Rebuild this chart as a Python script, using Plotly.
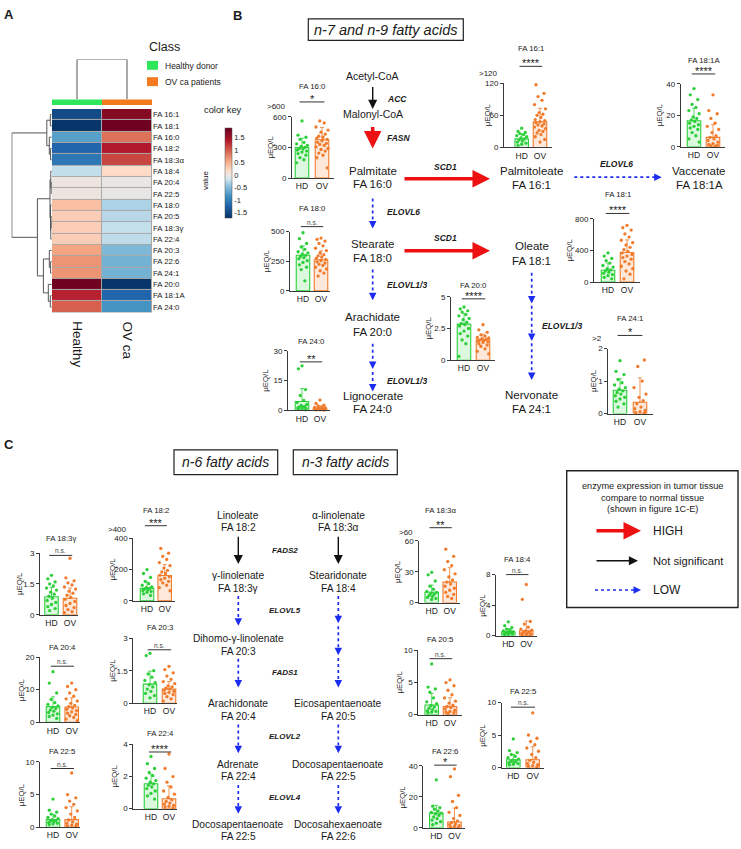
import plotly.graph_objects as go

W, H = 741, 849
FONT = "Liberation Sans, Arial, Helvetica, sans-serif"
TXT = "#1a1a1a"
AXC = "#3a3a3a"
HD_C = "#2ccf3a"
HD_FILL = "rgba(60,215,70,0.18)"
OV_C = "#f07b2c"
OV_FILL = "rgba(245,130,50,0.18)"
RED = "#ee1111"
BLUE = "#1c2cf0"
BLACK = "#111111"


def px(x):
    return x / W


def py(y):
    return 1 - y / H


# ---------------- data: heatmap (panel A) ----------------
heat_rows = ["FA 16:1", "FA 18:1", "FA 16:0", "FA 18:2", "FA 18:3α", "FA 18:4", "FA 20:4",
             "FA 22:5", "FA 18:0", "FA 20:5", "FA 18:3γ", "FA 22:4", "FA 20:3", "FA 22:6",
             "FA 24:1", "FA 20:0", "FA 18:1A", "FA 24:0"]
heat_cols = ["Healthy", "OV ca"]
heat_healthy = [-1.45, -1.65, -0.7, -1.2, -1.05, -0.2, 0.03, 0.03, 0.4, 0.3, 0.3, 0.3,
                0.6, 0.7, 0.7, 1.85, 1.35, 1.0]
heat_ovca = [1.7, 1.85, 0.9, 1.4, 1.15, 0.2, -0.02, -0.02, -0.3, -0.25, -0.2, -0.22,
             -0.5, -0.55, -0.55, -1.65, -1.2, -0.8]
# row dendrogram merges: (node a, node b, height); new nodes numbered from 18
row_linkage = [(0, 1, 1.5), (3, 4, 1.2), (2, 19, 2.5), (18, 20, 5.0),
               (6, 7, 0.5), (22, 5, 1.0), (9, 10, 0.6), (24, 11, 1.0), (8, 25, 1.3),
               (23, 26, 1.8), (13, 14, 1.2), (12, 28, 2.5), (16, 17, 1.5), (15, 30, 3.5),
               (29, 31, 8.4), (27, 32, 14.4), (21, 33, 40.0)]
col_link_height = 1.0
class_names = ["Healthy donor", "OV ca patients"]
cbar_ticks = [-1.5, -1, -0.5, 0, 0.5, 1, 1.5]

# ---------------- data: dot/bar charts ----------------
fa160_hd = [560, 420, 400, 380, 350, 335, 320, 310, 300, 290, 285, 275, 265, 255, 240, 225, 200, 180, 150]
fa160_ov = [700, 690, 680, 560, 540, 500, 470, 450, 430, 410, 400, 390, 380, 365, 350, 340, 330, 320,
            305, 290, 280, 265, 245, 225, 200, 100]
fa160_mean = [300, 375]
fa160_sd = [90, 120]

fa180_hd = [490, 440, 400, 370, 350, 330, 320, 310, 300, 290, 280, 270, 255, 240, 220, 200, 180, 85]
fa180_ov = [445, 435, 420, 400, 380, 360, 340, 320, 305, 295, 285, 275, 265, 255, 245, 235, 225, 215,
            200, 185, 170, 150, 125]
fa180_mean = [300, 262]
fa180_sd = [80, 75]

fa240_hd = [22.5, 21, 10.5, 7.5, 5, 4, 3, 2.5, 2, 1.8, 1.5, 1.2, 1, 0.8, 0.5, 0.3]
fa240_ov = [5.2, 3.5, 2.6, 2.2, 1.8, 1.5, 1.2, 1.0, 0.8, 0.7, 0.6, 0.5, 0.4, 0.3, 0.2, 0.1]
fa240_mean = [4.5, 1.0]
fa240_sd = [6.5, 1.2]

fa200_hd = [4.2, 4.05, 3.9, 3.8, 3.6, 3.5, 3.3, 3.2, 3.0, 2.9, 2.8, 2.7, 2.5, 2.3, 2.1, 1.9, 1.6, 1.3, 0.3]
fa200_ov = [2.8, 2.4, 2.2, 2.0, 1.9, 1.8, 1.75, 1.7, 1.65, 1.6, 1.55, 1.5, 1.45, 1.4, 1.3, 1.2, 1.1, 0.9,
            0.7, 0.5]
fa200_mean = [2.85, 1.6]
fa200_sd = [0.85, 0.45]

fa161_hd = [36, 30, 28, 26, 24, 22, 20, 18, 16, 14, 12, 10, 8, 6, 4]
fa161_ov = [140, 117, 101, 95, 88, 80, 72, 65, 62, 60, 56, 52, 50, 48, 46, 44, 42, 40, 38, 35, 32, 30,
            27, 24, 20, 15, 10]
fa161_mean = [16, 48]
fa161_sd = [9, 25]

fa181a_hd = [37, 33, 30, 27, 25, 23, 21, 19, 18, 17, 16, 15, 14, 13, 12, 11, 9, 7, 5, 3]
fa181a_ov = [33, 23, 21, 18, 15, 13, 11, 9, 7, 6, 5, 4, 3, 2, 1.5, 1, 0.5, 0.3]
fa181a_mean = [16.5, 6]
fa181a_sd = [8, 8]

fa181_hd = [370, 330, 300, 270, 240, 210, 190, 170, 155, 140, 125, 110, 95, 80, 60, 40]
fa181_ov = [720, 690, 660, 610, 570, 530, 500, 470, 440, 410, 390, 370, 350, 330, 310, 290, 260, 230,
            200, 170, 140, 100, 40]
fa181_mean = [150, 375]
fa181_sd = [90, 160]

fa241_hd = [1.63, 1.3, 1.2, 1.05, 0.95, 0.88, 0.8, 0.75, 0.7, 0.65, 0.6, 0.55, 0.5, 0.45, 0.38, 0.3, 0.2]
fa241_ov = [2.25, 2.25, 1.65, 1.45, 1.0, 0.8, 0.6, 0.5, 0.4, 0.3, 0.2, 0.15, 0.1, 0.06, 0.04, 0.02]
fa241_mean = [0.72, 0.35]
fa241_sd = [0.35, 0.75]

fa183g_hd = [1.92, 1.75, 1.6, 1.5, 1.4, 1.3, 1.2, 1.1, 1.0, 0.9, 0.8, 0.7, 0.6, 0.5, 0.4, 0.3, 0.2]
fa183g_ov = [2.75, 1.8, 1.65, 1.55, 1.45, 1.35, 1.25, 1.15, 1.05, 0.95, 0.85, 0.75, 0.65, 0.55, 0.45,
             0.35, 0.25, 0.15, 0.1]
fa183g_mean = [0.88, 0.8]
fa183g_sd = [0.45, 0.5]

fa182_hd = [200, 175, 150, 125, 110, 100, 90, 85, 80, 75, 70, 65, 60, 55, 45, 35]
fa182_ov = [455, 335, 305, 285, 265, 245, 225, 210, 195, 185, 175, 165, 155, 145, 135, 125, 115, 100, 85, 65]
fa182_mean = [80, 162]
fa182_sd = [40, 70]

fa203_hd = [2.3, 2.2, 1.5, 1.35, 1.2, 1.05, 0.95, 0.85, 0.75, 0.65, 0.55, 0.45, 0.35, 0.25]
fa203_ov = [1.7, 1.55, 1.4, 1.25, 1.1, 1.0, 0.9, 0.8, 0.75, 0.7, 0.65, 0.6, 0.55, 0.5, 0.45, 0.4, 0.3,
            0.2, 0.1]
fa203_mean = [0.88, 0.65]
fa203_sd = [0.6, 0.35]

fa224_hd = [3.25, 2.8, 2.5, 2.25, 2.05, 1.9, 1.75, 1.65, 1.55, 1.45, 1.35, 1.25, 1.1, 0.95, 0.8, 0.6]
fa224_ov = [3.4, 2.5, 2.0, 1.65, 1.35, 1.1, 0.9, 0.7, 0.55, 0.45, 0.35, 0.28, 0.2, 0.15, 0.1, 0.05]
fa224_mean = [1.55, 0.62]
fa224_sd = [0.6, 0.8]

fa204_hd = [15.5, 12, 9, 7, 6, 5.5, 5, 4.6, 4.2, 3.8, 3.4, 3, 2.6, 2.2, 1.8, 1.2]
fa204_ov = [12, 11, 10, 9, 8, 7.2, 6.5, 5.8, 5.2, 4.8, 4.4, 4, 3.6, 3.2, 2.8, 2.4, 2, 1.5, 1, 0.5]
fa204_mean = [4.8, 4.7]
fa204_sd = [3, 2.8]

fa225a_hd = [4.3, 2.6, 2.3, 2.0, 1.7, 1.5, 1.3, 1.15, 1.0, 0.9, 0.8, 0.7, 0.6, 0.5, 0.4]
fa225a_ov = [8.3, 5.0, 4.5, 4.0, 3.5, 3.0, 2.5, 2.0, 1.5, 1.1, 0.8, 0.6, 0.45, 0.3, 0.2, 0.1]
fa225a_mean = [1.15, 1.15]
fa225a_sd = [0.8, 2.0]

fa183a_hd = [29.5, 27, 21, 16, 13, 11, 10, 9, 8, 7, 6, 5, 4, 3]
fa183a_ov = [68, 52, 45, 40, 36, 32, 28, 25, 22, 20, 18, 16, 14, 12, 10, 8, 6, 4]
fa183a_mean = [10, 20]
fa183a_sd = [7, 14]

fa184_hd = [1.8, 1.3, 1.05, 0.85, 0.7, 0.6, 0.5, 0.45, 0.4, 0.35, 0.3, 0.25, 0.2, 0.15, 0.1]
fa184_ov = [6.7, 4.75, 1.85, 1.5, 1.1, 0.85, 0.7, 0.6, 0.5, 0.4, 0.3, 0.25, 0.2, 0.15, 0.1, 0.05]
fa184_mean = [0.5, 0.62]
fa184_sd = [0.4, 1.3]

fa205_hd = [7.9, 4.3, 4.0, 3.5, 2.6, 2.0, 1.7, 1.4, 1.2, 1.0, 0.8, 0.6, 0.5, 0.4, 0.3]
fa205_ov = [5.4, 5.0, 4.5, 3.8, 3.1, 2.6, 2.1, 1.8, 1.5, 1.3, 1.1, 0.9, 0.7, 0.5, 0.4, 0.3, 0.2]
fa205_mean = [1.5, 1.25]
fa205_sd = [1.8, 1.4]

fa226_hd = [31, 14, 13, 12, 11, 10, 9.5, 9, 8, 7, 6, 5, 4, 3, 2]
fa226_ov = [38, 33, 21, 17, 13, 10, 8, 6, 4.5, 3.5, 2.5, 2, 1.5, 1, 0.5, 0.3]
fa226_mean = [9.5, 3.8]
fa226_sd = [5, 9]

fa225b_hd = [4.4, 2.6, 2.3, 2.0, 1.7, 1.5, 1.3, 1.15, 1.0, 0.9, 0.8, 0.7, 0.6, 0.5, 0.4]
fa225b_ov = [8.4, 5.0, 4.5, 4.0, 3.5, 3.0, 2.5, 2.0, 1.5, 1.1, 0.8, 0.6, 0.45, 0.3, 0.2, 0.1]
fa225b_mean = [1.2, 1.2]
fa225b_sd = [0.8, 2.0]

group_labels = ["HD", "OV"]

charts = [
    dict(key="fa160", title="FA 16:0", hd=fa160_hd, ov=fa160_ov, mean=fa160_mean, sd=fa160_sd, ymax=600, step=300, sig="*", cap=">600"),
    dict(key="fa180", title="FA 18:0", hd=fa180_hd, ov=fa180_ov, mean=fa180_mean, sd=fa180_sd, ymax=500, step=250, sig="n.s.", cap=None),
    dict(key="fa240", title="FA 24:0", hd=fa240_hd, ov=fa240_ov, mean=fa240_mean, sd=fa240_sd, ymax=30, step=15, sig="**", cap=None),
    dict(key="fa200", title="FA 20:0", hd=fa200_hd, ov=fa200_ov, mean=fa200_mean, sd=fa200_sd, ymax=5, step=2.5, sig="****", cap=None),
    dict(key="fa161", title="FA 16:1", hd=fa161_hd, ov=fa161_ov, mean=fa161_mean, sd=fa161_sd, ymax=120, step=60, sig="****", cap=">120"),
    dict(key="fa181a", title="FA 18:1A", hd=fa181a_hd, ov=fa181a_ov, mean=fa181a_mean, sd=fa181a_sd, ymax=40, step=20, sig="****", cap=None),
    dict(key="fa181", title="FA 18:1", hd=fa181_hd, ov=fa181_ov, mean=fa181_mean, sd=fa181_sd, ymax=800, step=400, sig="****", cap=None),
    dict(key="fa241", title="FA 24:1", hd=fa241_hd, ov=fa241_ov, mean=fa241_mean, sd=fa241_sd, ymax=2, step=1, sig="*", cap=">2"),
    dict(key="fa183g", title="FA 18:3γ", hd=fa183g_hd, ov=fa183g_ov, mean=fa183g_mean, sd=fa183g_sd, ymax=3, step=1.5, sig="n.s.", cap=None),
    dict(key="fa182", title="FA 18:2", hd=fa182_hd, ov=fa182_ov, mean=fa182_mean, sd=fa182_sd, ymax=400, step=200, sig="***", cap=">400"),
    dict(key="fa203", title="FA 20:3", hd=fa203_hd, ov=fa203_ov, mean=fa203_mean, sd=fa203_sd, ymax=3, step=1.5, sig="n.s.", cap=None),
    dict(key="fa224", title="FA 22:4", hd=fa224_hd, ov=fa224_ov, mean=fa224_mean, sd=fa224_sd, ymax=4, step=2, sig="****", cap=None),
    dict(key="fa204", title="FA 20:4", hd=fa204_hd, ov=fa204_ov, mean=fa204_mean, sd=fa204_sd, ymax=20, step=10, sig="n.s.", cap=None),
    dict(key="fa225a", title="FA 22:5", hd=fa225a_hd, ov=fa225a_ov, mean=fa225a_mean, sd=fa225a_sd, ymax=10, step=5, sig="n.s.", cap=None),
    dict(key="fa183a", title="FA 18:3α", hd=fa183a_hd, ov=fa183a_ov, mean=fa183a_mean, sd=fa183a_sd, ymax=60, step=30, sig="**", cap=">60"),
    dict(key="fa184", title="FA 18:4", hd=fa184_hd, ov=fa184_ov, mean=fa184_mean, sd=fa184_sd, ymax=8, step=4, sig="n.s.", cap=None),
    dict(key="fa205", title="FA 20:5", hd=fa205_hd, ov=fa205_ov, mean=fa205_mean, sd=fa205_sd, ymax=10, step=5, sig="n.s.", cap=None),
    dict(key="fa226", title="FA 22:6", hd=fa226_hd, ov=fa226_ov, mean=fa226_mean, sd=fa226_sd, ymax=40, step=20, sig="*", cap=None),
    dict(key="fa225b", title="FA 22:5", hd=fa225b_hd, ov=fa225b_ov, mean=fa225b_mean, sd=fa225b_sd, ymax=10, step=5, sig="n.s.", cap=None),
]

# ---------------- layout geometry (pixels) ----------------
geom = {
    "fa160": dict(ax=292, hd=302, ov=322, xe=334, y0=176, yt=114, ty=83, sy=99, lx=270, cy=104),
    "fa180": dict(ax=290, hd=303, ov=321, xe=330, y0=290, yt=230, ty=207, sy=225, lx=266),
    "fa240": dict(ax=288, hd=302, ov=320, xe=330, y0=410.7, yt=350.7, ty=341, sy=361.7, lx=266),
    "fa200": dict(ax=451, hd=464, ov=483, xe=495, y0=360, yt=296, ty=285, sy=298, lx=429),
    "fa161": dict(ax=504, hd=521.7, ov=540, xe=552, y0=145, yt=80, ty=45, sy=63, lx=487, cy=70),
    "fa181a": dict(ax=680.7, hd=694, ov=713, xe=725, y0=144.3, yt=80.7, ty=56.7, sy=70.7, lx=659),
    "fa181": dict(ax=594, hd=608, ov=627, xe=640, y0=281, yt=217.3, ty=193, sy=211.7, lx=570),
    "fa241": dict(ax=608.3, hd=620, ov=640, xe=653, y0=414, yt=348.3, ty=318.3, sy=335, lx=593, cy=337.7),
    "fa183g": dict(ax=40, hd=51.5, ov=70, xe=78, y0=617.3, yt=555, ty=540, sy=557.3, lx=20),
    "fa182": dict(ax=133.3, hd=147, ov=164.7, xe=175, y0=603.3, yt=540, ty=511.7, sy=527.3, lx=113, cy=530.7),
    "fa203": dict(ax=133.3, hd=150, ov=169, xe=177, y0=706.7, yt=641, ty=630, sy=652.7, lx=113),
    "fa224": dict(ax=133.3, hd=151, ov=169, xe=177, y0=813.3, yt=748.3, ty=737.3, sy=756, lx=115),
    "fa204": dict(ax=40, hd=53, ov=71.7, xe=80, y0=726, yt=660, ty=650, sy=669.3, lx=21.7),
    "fa225a": dict(ax=40, hd=53, ov=71.7, xe=80, y0=832, yt=766, ty=756, sy=772.7, lx=21.7),
    "fa183a": dict(ax=419.3, hd=431.7, ov=449.7, xe=460, y0=605, yt=542.7, ty=511.7, sy=529.3, lx=397.3, cy=534),
    "fa184": dict(ax=496, hd=508.3, ov=526.3, xe=537, y0=638.3, yt=576.7, ty=561, sy=576.7, lx=481.7),
    "fa205": dict(ax=418.3, hd=431.7, ov=450, xe=462, y0=718.3, yt=653.3, ty=642.7, sy=661.7, lx=400),
    "fa226": dict(ax=423.3, hd=436.3, ov=454.5, xe=465, y0=832.7, yt=770, ty=756, sy=769.3, lx=402.7),
    "fa225b": dict(ax=501.7, hd=513.3, ov=532.7, xe=544, y0=771.7, yt=706, ty=695, sy=710.7, lx=481.7),
}
JIT = [0.0, -0.22, 0.22, -0.11, 0.11, -0.3, 0.3, -0.05, 0.16, -0.16, 0.05, -0.26, 0.26]

fig = go.Figure()
lay = {}
shapes = []
annotations = []


def text(s, x, y, size, anchor="center", bold=False, italic=False, angle=0, color=TXT):
    if italic:
        s = "<i>" + s + "</i>"
    if bold:
        s = "<b>" + s + "</b>"
    annotations.append(dict(text=s, x=px(x), y=py(y), xref="paper", yref="paper", xanchor=anchor,
                            yanchor="middle", showarrow=False, textangle=angle,
                            font=dict(size=size, color=color, family=FONT)))


def solid_arrow(x0, y0, x1, y1, color, width, size):
    annotations.append(dict(x=px(x1), y=py(y1), xref="paper", yref="paper", ax=x0 - x1, ay=y0 - y1,
                            showarrow=True, arrowhead=2, arrowsize=size, arrowwidth=width,
                            arrowcolor=color, text="", standoff=0))


def dotted_arrow(x0, y0, x1, y1):
    dx, dy = x1 - x0, y1 - y0
    L = (dx * dx + dy * dy) ** 0.5
    shapes.append(dict(type="line", xref="paper", yref="paper", x0=px(x0), y0=py(y0),
                       x1=px(x1 - dx / L * 3), y1=py(y1 - dy / L * 3),
                       line=dict(color=BLUE, width=1.7, dash="dot")))
    annotations.append(dict(x=px(x1), y=py(y1), xref="paper", yref="paper", ax=-dx / L * 4, ay=-dy / L * 4,
                            showarrow=True, arrowhead=2, arrowsize=1.0, arrowwidth=1.5,
                            arrowcolor=BLUE, text="", standoff=0))


def box(x0, y0, x1, y1, lw=1.2):
    shapes.append(dict(type="rect", xref="paper", yref="paper", x0=px(x0), y0=py(y0), x1=px(x1), y1=py(y1),
                       line=dict(color="#222", width=lw), fillcolor="rgba(0,0,0,0)"))


# ---------------- panel A: heatmap ----------------
zmin, zmax = -1.7, 1.9
cs_vals = [-1.7, -1.2, -0.8, -0.4, -0.15, 0.0, 0.2, 0.6, 1.0, 1.4, 1.9]
cs_cols = ["#053061", "#2166ac", "#4393c3", "#92c5de", "#d1e5f0", "#ebe6e3", "#fddbc7", "#f4a582",
           "#d6604d", "#b2182b", "#67001f"]
colorscale = [[(v - zmin) / (zmax - zmin), c] for v, c in zip(cs_vals, cs_cols)]
z = [[h, o] for h, o in zip(heat_healthy, heat_ovca)]
fig.add_trace(go.Heatmap(z=z, x=[0, 1], y=list(range(len(heat_rows))), zmin=zmin, zmax=zmax,
                         colorscale=colorscale, xgap=1, ygap=1, xaxis="x", yaxis="y",
                         colorbar=dict(x=px(215), xanchor="left", y=py(170.5), yanchor="middle",
                                       len=(226 - 115) / H, lenmode="fraction", thickness=7,
                                       thicknessmode="pixels", tickvals=cbar_ticks,
                                       ticktext=[f"{t:g}" for t in cbar_ticks], ticks="",
                                       tickfont=dict(size=7.5, color=TXT, family=FONT),
                                       outlinewidth=0.5, outlinecolor="#555")))
lay["xaxis"] = dict(domain=[px(52), px(152)], anchor="y", range=[-0.5, 1.5], visible=False)
lay["yaxis"] = dict(domain=[py(312), py(106)], anchor="x", range=[17.5, -0.5], side="right",
                    tickvals=list(range(len(heat_rows))), ticktext=heat_rows, ticks="", showgrid=False,
                    zeroline=False, showline=False, tickfont=dict(size=7.8, color=TXT, family=FONT))
shapes.append(dict(type="rect", xref="x", yref="y", x0=-0.5, x1=1.5, y0=-0.5, y1=17.5,
                   fillcolor="#a8a8a8", line=dict(width=0), layer="below"))
# class colour bar
shapes.append(dict(type="rect", xref="x", yref="paper", x0=-0.5, x1=0.5, y0=py(102), y1=py(96.5),
                   fillcolor="#2ee65a", line=dict(width=0)))
shapes.append(dict(type="rect", xref="x", yref="paper", x0=0.5, x1=1.5, y0=py(102), y1=py(96.5),
                   fillcolor="#f47a20", line=dict(width=0)))

# top dendrogram
fig.add_trace(go.Scatter(x=[0, 0, 1, 1], y=[0, col_link_height, col_link_height, 0], mode="lines",
                         line=dict(color="#555", width=1), xaxis="x2", yaxis="y2", hoverinfo="skip"))
lay["xaxis2"] = dict(domain=[px(52), px(152)], anchor="y2", range=[-0.5, 1.5], visible=False)
lay["yaxis2"] = dict(domain=[py(96.5), py(56)], anchor="x2", range=[0, col_link_height], visible=False)

# left dendrogram
n_rows = len(heat_rows)
pos = {i: float(i) for i in range(n_rows)}
hgt = {i: 0.0 for i in range(n_rows)}
dx_, dy_ = [], []
for k, (a, b, h) in enumerate(row_linkage):
    nid = n_rows + k
    dx_ += [hgt[a], h, h, hgt[b], None]
    dy_ += [pos[a], pos[a], pos[b], pos[b], None]
    pos[nid] = (pos[a] + pos[b]) / 2
    hgt[nid] = h
fig.add_trace(go.Scatter(x=dx_, y=dy_, mode="lines", line=dict(color="#555", width=1),
                         xaxis="x3", yaxis="y3", hoverinfo="skip"))
lay["xaxis3"] = dict(domain=[px(11.5), px(51.8)], anchor="y3", range=[40.3, 0], visible=False)
lay["yaxis3"] = dict(domain=[py(312), py(106)], anchor="x3", range=[17.5, -0.5], visible=False)

text("Healthy", 78, 344, 13.5, angle=90)
text("OV ca", 128, 340, 13.5, angle=90)
text("Class", 147, 43, 12.5, anchor="left")
shapes.append(dict(type="rect", xref="paper", yref="paper", x0=px(147), x1=px(158), y0=py(66.5), y1=py(57.5),
                   fillcolor="#2ee65a", line=dict(width=0)))
shapes.append(dict(type="rect", xref="paper", yref="paper", x0=px(147), x1=px(158), y0=py(83), y1=py(74),
                   fillcolor="#f47a20", line=dict(width=0)))
text(class_names[0], 163, 62.3, 8.5, anchor="left")
text(class_names[1], 163, 78.5, 8.5, anchor="left")
text("color key", 202, 107, 9.3, anchor="left")
text("value", 205, 178, 8, angle=-90)

# ---------------- dot / bar charts ----------------
for i, c in enumerate(charts):
    n = 4 + i
    g = geom[c["key"]]
    unit = g["ov"] - g["hd"]
    xr = [-(g["hd"] - g["ax"]) / unit, 1 + (g["xe"] - g["ov"]) / unit]
    bw = 13.5 / unit
    xs, ys = f"x{n}", f"y{n}"
    for gi, (vals, col, fill) in enumerate([(c["hd"], HD_C, HD_FILL), (c["ov"], OV_C, OV_FILL)]):
        fig.add_trace(go.Bar(x=[gi], y=[c["mean"][gi]], width=[bw], xaxis=xs, yaxis=ys,
                             marker=dict(color=fill, line=dict(color=col, width=1.1)),
                             error_y=dict(type="data", symmetric=False, array=[c["sd"][gi]],
                                          arrayminus=[0], color=col, thickness=0.8, width=2),
                             hoverinfo="skip"))
        jx = [gi + JIT[k % len(JIT)] * (0.9 if gi == 0 else 1.0) for k in range(len(vals))]
        fig.add_trace(go.Scatter(x=jx, y=vals, mode="markers", xaxis=xs, yaxis=ys, cliponaxis=False,
                                 marker=dict(size=3.3, color=col, line=dict(width=0)), hoverinfo="skip"))
    tv = [0, c["step"], 2 * c["step"]]
    lay[f"xaxis{n}"] = dict(domain=[px(g["ax"]), px(g["xe"])], anchor=ys, range=xr, tickvals=[0, 1],
                            ticktext=group_labels, showline=True, linecolor=AXC, linewidth=1, ticks="",
                            showgrid=False, zeroline=False,
                            tickfont=dict(size=8.5, color=TXT, family=FONT))
    lay[f"yaxis{n}"] = dict(domain=[py(g["y0"]), py(g["yt"])], anchor=xs, range=[0, c["ymax"]], tickvals=tv,
                            ticktext=[f"{t:g}" for t in tv], showline=True, linecolor=AXC, linewidth=1,
                            ticks="outside", ticklen=3, tickwidth=1, tickcolor=AXC, showgrid=False,
                            zeroline=False, tickfont=dict(size=8, color=TXT, family=FONT))
    text(c["title"], (g["hd"] + g["ov"]) / 2, g["ty"], 7.8)
    text("μEQ/L", g["lx"], (g["y0"] + g["yt"]) / 2, 7.8, angle=-90)
    shapes.append(dict(type="line", xref=xs, yref="paper", x0=-0.12, x1=1.12, y0=py(g["sy"]), y1=py(g["sy"]),
                       line=dict(color="#333", width=1)))
    if c["sig"] == "n.s.":
        annotations.append(dict(text="n.s.", x=0.5, y=py(g["sy"]), xref=xs, yref="paper", yanchor="bottom",
                                showarrow=False, yshift=-1, font=dict(size=6.5, color="#444", family=FONT)))
    else:
        annotations.append(dict(text=c["sig"], x=0.5, y=py(g["sy"]), xref=xs, yref="paper", yanchor="bottom",
                                showarrow=False, yshift=-5, font=dict(size=11, color=TXT, family=FONT)))
    if c["cap"]:
        text(c["cap"], g["ax"] - 4, g["cy"], 8, anchor="right")

# ---------------- panel B pathway ----------------
text("A", 9, 11, 13, bold=True)
text("B", 237, 12, 13, bold=True)
text("C", 9, 445, 13, bold=True)

box(308.3, 15, 463.3, 36.7)
text("n-7 and n-9 fatty acids", 385.8, 26, 14.5, italic=True)

b_labels = [("Acetyl-CoA", 372.7, 72.7, 10.5), ("Malonyl-CoA", 372.7, 111, 10.5),
            ("Palmitate", 372.7, 168.3, 11.5), ("FA 16:0", 372.7, 181.7, 11.5),
            ("Stearate", 372.7, 242.7, 11.5), ("FA 18:0", 372.7, 256.7, 11.5),
            ("Arachidate", 372.7, 316.7, 11.5), ("FA 20:0", 372.7, 331.7, 11.5),
            ("Lignocerate", 372.7, 396, 11.5), ("FA 24:0", 372.7, 409.3, 11.5),
            ("Palmitoleate", 531.7, 168.3, 11.5), ("FA 16:1", 531.7, 182.7, 11.5),
            ("Vaccenate", 699.3, 168.3, 11.5), ("FA 18:1A", 699.3, 182.7, 11.5),
            ("Oleate", 531.7, 245, 11.5), ("FA 18:1", 531.7, 259.3, 11.5),
            ("Nervonate", 531.7, 395, 11.5), ("FA 24:1", 531.7, 409.3, 11.5)]
for s, x, y, sz in b_labels:
    text(s, x, y, sz)

b_enzymes = [("ACC", 385, 95.7, "left"), ("FASN", 385, 135, "left"), ("ELOVL6", 385, 210.7, "left"),
             ("SCD1", 445, 164.3, "center"), ("SCD1", 445, 236.7, "center"),
             ("ELOVL1/3", 385, 284.3, "left"), ("ELOVL1/3", 385, 381, "left"),
             ("ELOVL6", 616.7, 161.7, "center"), ("ELOVL1/3", 540, 325, "left")]
for s, x, y, a in b_enzymes:
    text(s, x, y, 8.5, anchor=a, bold=True, italic=True)

solid_arrow(372.7, 82.7, 372.7, 106, BLACK, 1.4, 1.3)
solid_arrow(372.7, 123, 372.7, 146, RED, 3.5, 1.0)
solid_arrow(403, 176.7, 490, 176.7, RED, 3.5, 1.0)
solid_arrow(403, 249.3, 490, 249.3, RED, 3.5, 1.0)
dotted_arrow(372.7, 196.7, 372.7, 227)
dotted_arrow(372.7, 268.3, 372.7, 299.3)
dotted_arrow(372.7, 343.3, 372.7, 369)
dotted_arrow(372.7, 372, 372.7, 391.7)
dotted_arrow(574.3, 175, 661.7, 175)
dotted_arrow(531.7, 271.7, 531.7, 302.7)
dotted_arrow(531.7, 305, 531.7, 340.7)
dotted_arrow(531.7, 343, 531.7, 380)

# ---------------- panel C pathway ----------------
box(174, 450.7, 277.7, 475.7)
text("n-6 fatty acids", 225.8, 463.2, 14, italic=True)
box(293.3, 450.7, 397.3, 475.7)
text("n-3 fatty acids", 345.3, 463.2, 14, italic=True)

c_labels = [("Linoleate", 238.3, 516.7), ("FA 18:2", 238.3, 529.3), ("α-linolenate", 338.3, 516.7),
            ("FA 18:3α", 338.3, 529.3), ("γ-linolenate", 238.3, 577.7), ("FA 18:3γ", 238.3, 590.7),
            ("Stearidonate", 338.3, 577.7), ("FA 18:4", 338.3, 590.7),
            ("Dihomo-γ-linolenate", 238.3, 641.7), ("FA 20:3", 238.3, 654),
            ("Arachidonate", 238.3, 707.3), ("FA 20:4", 238.3, 720),
            ("Eicosapentaenoate", 338.3, 707.3), ("FA 20:5", 338.3, 720),
            ("Adrenate", 238.3, 768.3), ("FA 22:4", 238.3, 781),
            ("Docosapentaenoate", 338.3, 768.3), ("FA 22:5", 338.3, 781),
            ("Docosapentaenoate", 238.3, 829.5), ("FA 22:5", 238.3, 841),
            ("Docosahexaenoate", 338.3, 829.5), ("FA 22:6", 338.3, 841)]
for s, x, y in c_labels:
    text(s, x, y, 10.2)
c_enzymes = [("FADS2", 285, 552.7), ("ELOVL5", 285, 612.7), ("FADS1", 285, 676), ("ELOVL2", 285, 740.7),
             ("ELOVL4", 285, 801.7)]
for s, x, y in c_enzymes:
    text(s, x, y, 8, bold=True, italic=True)

solid_arrow(238.3, 537.3, 238.3, 566, BLACK, 1.4, 1.3)
solid_arrow(338.3, 537.3, 338.3, 566, BLACK, 1.4, 1.3)
dotted_arrow(238.3, 598.3, 238.3, 628.3)
dotted_arrow(238.3, 661.7, 238.3, 690.7)
dotted_arrow(338.3, 598.3, 338.3, 626)
dotted_arrow(338.3, 629, 338.3, 658.3)
dotted_arrow(338.3, 661, 338.3, 690.7)
dotted_arrow(238.3, 728.3, 238.3, 757.3)
dotted_arrow(338.3, 728.3, 338.3, 757.3)
dotted_arrow(238.3, 789.3, 238.3, 818.3)
dotted_arrow(338.3, 789.3, 338.3, 818.3)

# legend box
box(566.7, 471.7, 738, 610, lw=1.4)
text("enzyme expression in tumor tissue", 652, 486.7, 9.2)
text("compare to normal tissue", 652, 499, 9.2)
text("(shown in figure 1C-E)", 652, 510.7, 9.2)
solid_arrow(595, 532.3, 641, 532.3, RED, 3.5, 1.0)
text("HIGH", 651, 532.3, 12, anchor="left")
solid_arrow(595, 562.7, 638, 562.7, BLACK, 1.4, 1.3)
text("Not significant", 651, 562.7, 11.2, anchor="left")
dotted_arrow(595, 592.3, 641, 592.3)
text("LOW", 651, 592.3, 12, anchor="left")

fig.update_layout(width=W, height=H, margin=dict(l=0, r=0, t=0, b=0), paper_bgcolor="white",
                  plot_bgcolor="white", showlegend=False, barmode="overlay", hovermode=False,
                  font=dict(family=FONT, color=TXT), shapes=shapes, annotations=annotations, **lay)
fig.write_html("out.html", config={"displayModeBar": False},
               post_script="document.body.style.margin='0px';")
